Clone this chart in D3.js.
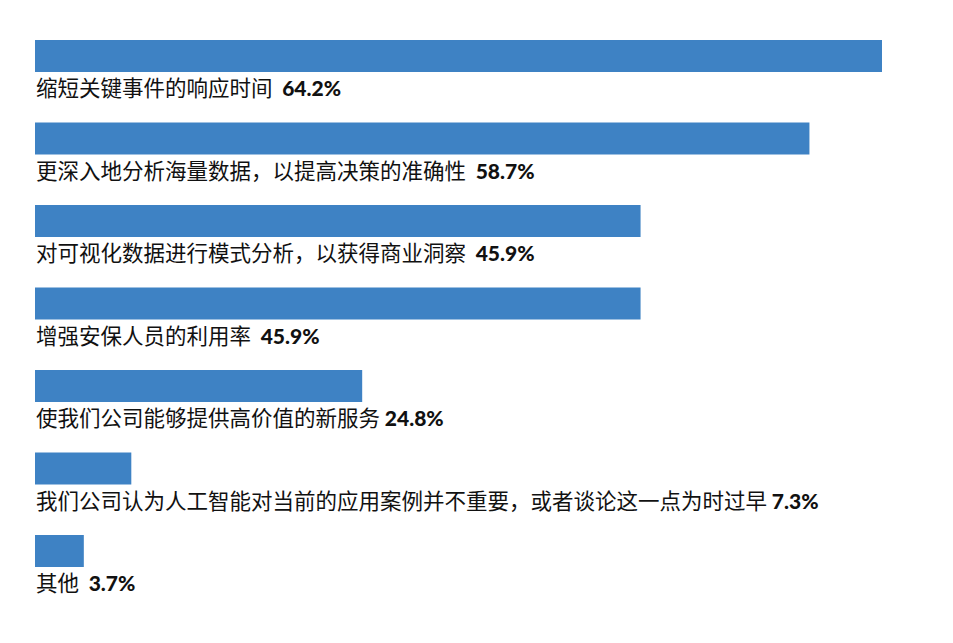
<!DOCTYPE html>
<html>
<head>
<meta charset="utf-8">
<script src="https://cdn.jsdelivr.net/npm/d3@7"></script>
<style>
  html, body { margin: 0; padding: 0; background: #fff; }
  #chart text { white-space: pre; }
</style>
</head>
<body>
<div id="chart"></div>
<script>
// categories (trailing spaces kept as in the source labels)
var categories = [
    "缩短关键事件的响应时间  ",
    "更深入地分析海量数据，以提高决策的准确性  ",
    "对可视化数据进行模式分析，以获得商业洞察  ",
    "增强安保人员的利用率  ",
    "使我们公司能够提供高价值的新服务 ",
    "我们公司认为人工智能对当前的应用案例并不重要，或者谈论这一点为时过早 ",
    "其他  "
];
var values = [64.2, 58.7, 45.9, 45.9, 24.8, 7.3, 3.7];
var valueLabels = ["64.2%", "58.7%", "45.9%", "45.9%", "24.8%", "7.3%", "3.7%"];

var width = 953;
var height = 643;
var margin = {top: 40, left: 35};
var step = 82.5;
var barH = 32;

var svg = d3.select("#chart")
    .append("svg")
    .attr("width", width)
    .attr("height", height);

var x = d3.scaleLinear()
    .domain([0, d3.max(values)])
    .range([margin.left, margin.left + 847]);

var y = d3.scaleBand()
    .domain(d3.range(values.length))
    .range([margin.top, margin.top + step * values.length])
    .paddingInner(0)
    .paddingOuter(0);

svg.selectAll("rect.bar")
    .data(values)
    .enter()
    .append("rect")
    .attr("class", "bar")
    .attr("x", x(0))
    .attr("y", function(d, i) { return y(i) })
    .attr("width", function(d) { return x(d) - x(0) })
    .attr("height", barH)
    .attr("fill", "#3e82c4");

var labels = svg.selectAll("text.label")
    .data(categories)
    .enter()
    .append("text")
    .attr("class", "label")
    .attr("x", x(0) + 1)
    .attr("y", function(d, i) { return y(i) + barH + 24 })
    .attr("fill", "#111")
    .style("font-family", "'Noto Sans CJK SC', sans-serif")
    .style("font-size", "21.5px");

labels.append("tspan")
    .text(function(d) { return d });

labels.append("tspan")
    .text(function(d, i) { return valueLabels[i] })
    .style("font-family", "Lato, sans-serif")
    .style("font-weight", "900")
    .style("font-size", "21px");
</script>
</body>
</html>
